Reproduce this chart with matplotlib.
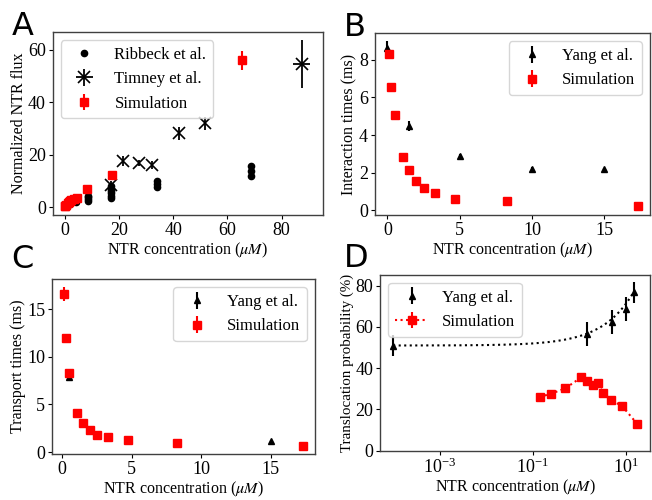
import numpy as np
import matplotlib
matplotlib.use("Agg")
import matplotlib.pyplot as plt

plt.rcParams['font.family'] = 'serif'
plt.rcParams['font.serif'] = ['Liberation Serif', 'DejaVu Serif']
plt.rcParams['mathtext.fontset'] = 'stix'
plt.rcParams['font.size'] = 11.5
plt.rcParams['xtick.labelsize'] = 13
plt.rcParams['ytick.labelsize'] = 13
plt.rcParams['legend.fontsize'] = 12
plt.rcParams['xtick.major.size'] = 3
plt.rcParams['ytick.major.size'] = 3
plt.rcParams['xtick.major.pad'] = 2
plt.rcParams['ytick.major.pad'] = 2
plt.rcParams['axes.labelpad'] = 1
plt.rcParams['axes.edgecolor'] = '0.25'
plt.rcParams['axes.linewidth'] = 1.0

# ---- data ----
# Panel A: normalized flux
ribbeck_x = [0.53, 1.06, 2.1, 4.25, 4.25, 8.5, 8.5, 8.5, 8.5,
             17, 17, 17, 17, 17, 17, 34, 34, 34, 68.5, 68.5, 68.5]
ribbeck_y = [0.5, 1.0, 1.5, 2.0, 2.3, 2.6, 3.2, 3.8, 4.4,
             3.6, 4.5, 5.5, 6.3, 7.2, 8.0, 7.8, 9.0, 10.0, 12.0, 13.8, 15.7]
timney_x = [17, 21.5, 27.3, 32.3, 42.2, 51.8, 87.3]
timney_y = [8.5, 17.6, 16.9, 16.0, 28.3, 32.0, 54.6]
timney_xerr = [0.3, 0.3, 0.3, 0.3, 0.3, 0.3, 3.3]
timney_yerr = [1.5, 1.8, 1.2, 1.5, 2.5, 2.5, 9.0]
simA_x = [0.14, 0.25, 0.5, 1.1, 1.5, 2.0, 2.5, 3.3, 4.7, 8.25, 17.3, 65.2]
simA_y = [0.4, 0.6, 1.1, 1.8, 2.2, 2.6, 2.9, 3.1, 3.6, 6.9, 12.2, 56.0]
simA_err = [0.1, 0.1, 0.1, 0.15, 0.15, 0.2, 0.2, 0.2, 0.3, 0.4, 0.6, 3.7]

# Simulation concentrations shared by B, C, D
sim_x = [0.14, 0.25, 0.5, 1.1, 1.5, 2.0, 2.5, 3.3, 4.7, 8.25, 17.3]

# Panel B: interaction times
yangB_x = [0, 1.5, 5, 10, 15]
yangB_y = [8.63, 4.49, 2.9, 2.19, 2.19]
yangB_err = [0.35, 0.25, 0.08, 0.1, 0.08]
simB_y = [8.3, 6.54, 5.08, 2.83, 2.14, 1.55, 1.2, 0.93, 0.63, 0.48, 0.22]
simB_err = [0.25, 0.1, 0.08, 0.06, 0.05, 0.04, 0.03, 0.03, 0.02, 0.02, 0.02]

# Panel C: transport times
yangC_x = [0.5, 15]
yangC_y = [7.86, 1.2]
yangC_err = [0.2, 0.1]
simC_y = [16.6, 12.0, 8.3, 4.1, 3.07, 2.33, 1.81, 1.54, 1.23, 0.99, 0.66]
simC_err = [0.75, 0.35, 0.25, 0.1, 0.08, 0.06, 0.05, 0.04, 0.04, 0.03, 0.03]

# Panel D: translocation probability
yangD_x = [1e-4, 1.5, 5, 10, 15]
yangD_y = [50.9, 56.8, 62.6, 68.7, 76.8]
yangD_err = [5.0, 5.8, 5.8, 5.8, 5.2]
simD_y = [26.0, 27.6, 30.2, 35.5, 33.8, 31.8, 32.6, 27.8, 24.5, 21.7, 13.1]
simD_err = [0.5, 0.5, 0.5, 0.5, 0.5, 0.5, 0.5, 0.5, 0.5, 0.5, 0.5]
# fitted trend through Yang et al. points: y = a + k * x**c
fit_a, fit_k, fit_c = 51.0, 4.53, 0.65

xlabel = r'NTR concentration ($\mu M$)'

fig = plt.figure(figsize=(6.52, 5.0), dpi=100)
axA = fig.add_axes([0.081, 0.57, 0.414, 0.366])
axB = fig.add_axes([0.575, 0.57, 0.422, 0.364])
axC = fig.add_axes([0.080, 0.092, 0.403, 0.350])
axD = fig.add_axes([0.583, 0.099, 0.414, 0.352])

# ---- A ----
axA.plot(ribbeck_x, ribbeck_y, 'o', color='black', ms=4.5, label='Ribbeck et al.')
axA.errorbar(timney_x, timney_y, xerr=timney_xerr, yerr=timney_yerr, fmt='x',
             color='black', ms=8, mew=1.2, elinewidth=1.3, label='Timney et al.')
axA.errorbar(simA_x, simA_y, yerr=simA_err, fmt='s', color='red', ms=5.5,
             elinewidth=1.5, label='Simulation')
axA.set_xlabel(xlabel)
axA.set_ylabel('Normalized NTR flux')
axA.set_yticks([0, 20, 40, 60])
axA.set_xticks([0, 20, 40, 60, 80])
axA.legend(loc='upper left')

# ---- B ----
axB.errorbar(yangB_x, yangB_y, yerr=yangB_err, fmt='^', color='black', ms=5,
             elinewidth=1.5, label='Yang et al.')
axB.errorbar(sim_x, simB_y, yerr=simB_err, fmt='s', color='red', ms=5.5,
             elinewidth=1.5, label='Simulation')
axB.set_xlabel(xlabel)
axB.set_ylabel('Interaction times (ms)')
axB.set_xticks([0, 5, 10, 15])
axB.set_yticks([0, 2, 4, 6, 8])
axB.legend(loc='upper right')

# ---- C ----
axC.errorbar(yangC_x, yangC_y, yerr=yangC_err, fmt='^', color='black', ms=5,
             elinewidth=1.5, label='Yang et al.')
axC.errorbar(sim_x, simC_y, yerr=simC_err, fmt='s', color='red', ms=5.5,
             elinewidth=1.5, label='Simulation')
axC.set_xlabel(xlabel)
axC.set_ylabel('Transport times (ms)')
axC.set_xticks([0, 5, 10, 15])
axC.set_yticks([0, 5, 10, 15])
axC.legend(loc='upper right')

# ---- D ----
fit_x = np.logspace(-4, np.log10(15), 200)
axD.plot(fit_x, fit_a + fit_k * fit_x ** fit_c, ':', color='black', lw=1.5)
axD.errorbar(yangD_x, yangD_y, yerr=yangD_err, fmt='^', color='black', ms=5,
             elinewidth=1.5, label='Yang et al.')
axD.errorbar(sim_x, simD_y, yerr=simD_err, fmt='s:', color='red', ms=5.5,
             lw=1.5, elinewidth=1.5, label='Simulation')
axD.set_xscale('log')
axD.set_xlim(10 ** -4.28, 10 ** 1.52)
axD.set_ylim(0, 85.5)
axD.set_xticks([1e-3, 1e-1, 1e1])
axD.xaxis.set_minor_locator(matplotlib.ticker.NullLocator())
axD.set_yticks([0, 20, 40, 60, 80])
axD.set_xlabel(xlabel)
axD.set_ylabel('Translocation probability (%)', fontsize=10.8)
axD.legend(loc='upper left')

# panel letters
for x, y, s in [(0.018, 0.978, 'A'), (0.527, 0.976, 'B'),
                (0.018, 0.512, 'C'), (0.527, 0.514, 'D')]:
    fig.text(x, y, s, fontsize=23, family='DejaVu Sans', va='top', ha='left')

fig.savefig('out.png', dpi=100)
